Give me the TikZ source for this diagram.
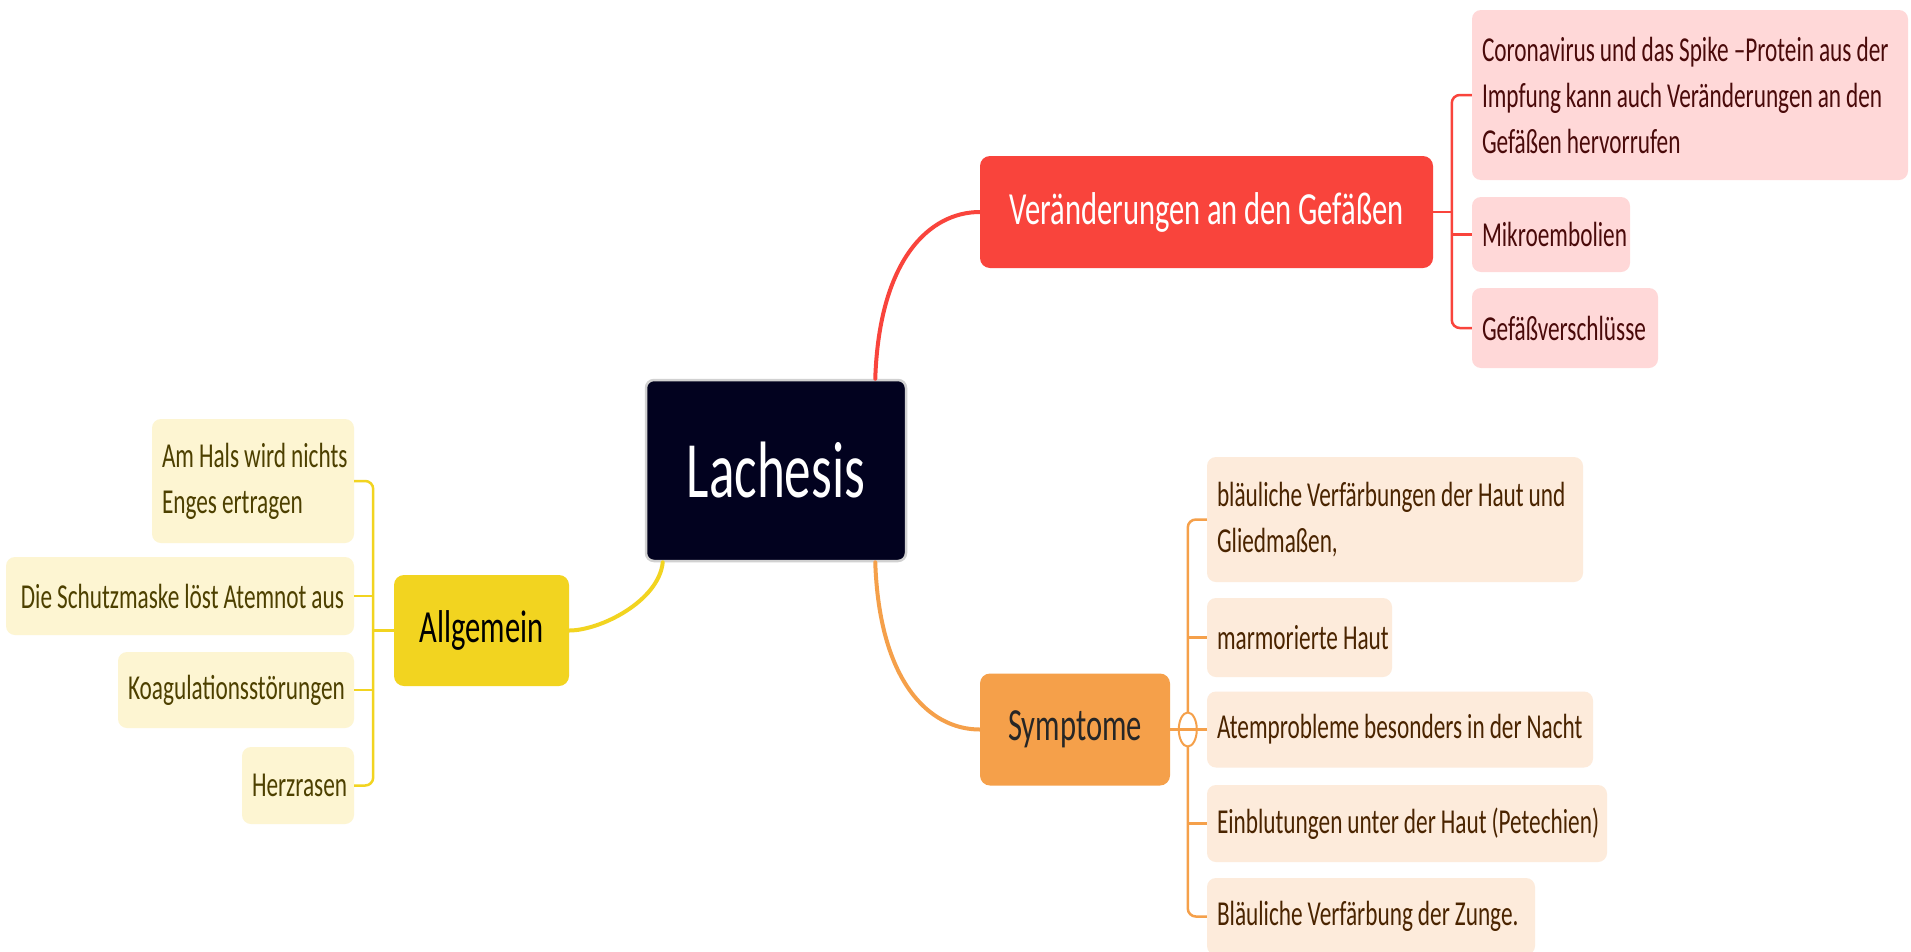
\documentclass[tikz,border=0pt]{standalone}
\usepackage{fontspec}
\setmainfont{Carlito}[FakeStretch=0.665,WordSpace=0.95]
\usetikzlibrary{calc,shapes.geometric}
\newcommand\oneline[1]{\mbox{\spaceskip=0pt\xspaceskip=0pt\relax#1}}
\definecolor{navy}{HTML}{02021F}
\definecolor{redm}{HTML}{F9443C}
\definecolor{redc}{HTML}{FFD8D8}
\definecolor{redt}{HTML}{4A0A0A}
\definecolor{orm}{HTML}{F5A04A}
\definecolor{orc}{HTML}{FDEBDB}
\definecolor{ort}{HTML}{4A2400}
\definecolor{yem}{HTML}{F2D420}
\definecolor{yec}{HTML}{FDF5D2}
\definecolor{yet}{HTML}{4D4000}
\begin{document}
\begin{tikzpicture}[x=1pt,y=-1pt,
  mbox/.style={rounded corners=10pt, inner xsep=10pt, inner ysep=0pt,
    font=\fontsize{46}{56}\selectfont, align=center},
  cbox/.style={rounded corners=9pt, inner xsep=10pt, inner ysep=0pt,
    font=\fontsize{35}{46}\selectfont},
  redbox/.style={cbox, fill=redc, text=redt, align=left},
  orbox/.style={cbox, fill=orc, text=ort, align=left},
  yebox/.style={cbox, fill=yec, text=yet},
  link/.style={line width=4pt, line cap=round},
  brk/.style={line width=2.5pt, rounded corners=8pt}
]
\useasboundingbox[fill=white] (0,0) rectangle (1911,951);

% central node
\node[rounded corners=8pt, fill=navy, draw=black!18, line width=2.5pt,
  minimum width=260pt, minimum height=181pt, text=white,
  font=\fontsize{80}{90}\selectfont] (lach) at (776,470.5) {Lachesis};

% main branches
\node[mbox, fill=redm, text=white, minimum width=453pt, minimum height=112pt]
  (veran) at (1206.5,212) {Veränderungen an den Gefäßen};
\node[mbox, fill=orm, text=black!85, minimum width=190pt, minimum height=112pt]
  (sympt) at (1075,729.5) {Symptome};
\node[mbox, fill=yem, text=black, minimum width=175pt, minimum height=111pt]
  (allg) at (481.5,630.5) {Allgemein};

% red children
\node[redbox, text width=416pt, minimum height=170pt] (coro) at (1690,95)
  {\oneline{Coronavirus und das Spike –Protein aus der}\\\oneline{Impfung kann auch Veränderungen an den}\\\oneline{Gefäßen hervorrufen}};
\node[redbox, text width=138pt, minimum height=75pt] (mikro) at (1551,234.5)
  {\oneline{Mikroembolien}};
\node[redbox, text width=166pt, minimum height=80pt] (gefv) at (1565,328)
  {\oneline{Gefäßverschlüsse}};

% orange children
\node[orbox, text width=356pt, minimum height=125pt] (bl) at (1395,519.5)
  {\oneline{bläuliche Verfärbungen der Haut und}\\\oneline{Gliedmaßen,}};
\node[orbox, text width=165pt, minimum height=79pt] (marm) at (1299.5,637.5)
  {\oneline{marmorierte Haut}};
\node[orbox, text width=366pt, minimum height=76pt] (atem) at (1400,729.5)
  {\oneline{Atemprobleme besonders in der Nacht}};
\node[orbox, text width=380pt, minimum height=77pt] (einb) at (1407,823.5)
  {\oneline{Einblutungen unter der Haut (Petechien)}};
\node[orbox, text width=308pt, minimum height=77pt] (zunge) at (1371,916.5)
  {\oneline{Bläuliche Verfärbung der Zunge.}};

% yellow children
\node[yebox, align=left, text width=182pt, minimum height=124pt] (hals) at (253,481)
  {\oneline{Am Hals wird nichts}\\\oneline{Enges ertragen}};
\node[yebox, align=right, text width=328pt, minimum height=78pt] (schutz) at (180,596)
  {\oneline{Die Schutzmaske löst Atemnot aus}};
\node[yebox, align=right, text width=216pt, minimum height=76pt] (koag) at (236,690)
  {\oneline{Koagulationsstörungen}};
\node[yebox, align=right, text width=92pt, minimum height=77pt] (herz) at (298,785.5)
  {\oneline{Herzrasen}};

% main connectors
\draw[link, redm] ([xshift=-32pt]lach.north east)
  .. controls ($([xshift=-32pt]lach.north east)+(4,-120)$) and ($(veran.west)+(-50,0)$) .. (veran.west);
\draw[link, orm] ([xshift=-32pt]lach.south east)
  .. controls ($([xshift=-32pt]lach.south east)+(4,119)$) and ($(sympt.west)+(-51,0)$) .. (sympt.west);
\draw[link, yem] ([xshift=18pt]lach.south west)
  .. controls ($([xshift=18pt]lach.south west)+(-4,39)$) and ($(allg.east)+(31,0)$) .. (allg.east);

% red bracket
\draw[brk, redm] (coro.west) -- ++(-20,0) |- (gefv.west);
\draw[brk, redm] (mikro.west) -- ++(-20,0);
\draw[brk, redm] (veran.east) -- ++(19,0);

% orange bracket
\draw[brk, orm] (bl.west) -- ++(-19,0) |- (zunge.west);
\draw[brk, orm] (marm.west) -- ++(-19,0);
\draw[brk, orm] (einb.west) -- ++(-19,0);
\node[ellipse, draw=orm, fill=white, line width=2pt, inner sep=0pt,
  minimum width=18pt, minimum height=34pt] (coll) at ([xshift=-19pt]atem.west) {};
\draw[brk, orm] (sympt.east) -- (atem.west);

% yellow bracket
\draw[brk, yem] (hals.east) -- ++(19,0) |- (herz.east);
\draw[brk, yem] (schutz.east) -- ++(19,0);
\draw[brk, yem] (koag.east) -- ++(19,0);
\draw[brk, yem] (allg.west) -- ++(-21,0);
\end{tikzpicture}
\end{document}
